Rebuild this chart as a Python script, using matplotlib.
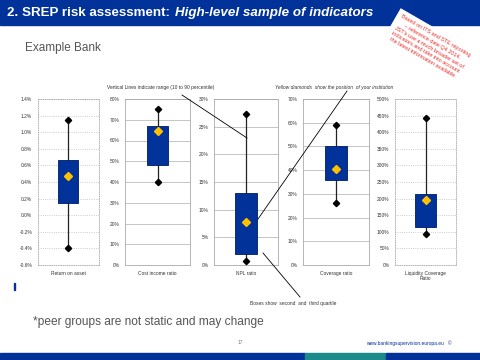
import matplotlib
matplotlib.use("Agg")
import matplotlib.pyplot as plt
from matplotlib.patches import Rectangle
from matplotlib.ticker import FuncFormatter, MultipleLocator

plt.rcParams['font.family'] = ['Liberation Sans', 'DejaVu Sans']

# indicator data (values in percent)
names = ["Return on asset", "Cost income ratio", "NPL ratio", "Coverage ratio", "Liquidity Coverage\nRatio"]
p10 = [-0.40, 40, 0.7, 26, 92]
q1 = [0.15, 48, 2.0, 36, 115]
q3 = [0.66, 67, 13.0, 50, 215]
p90 = [1.15, 75, 27.3, 59, 443]
bank = [0.47, 64.5, 7.8, 40.5, 195]
y_min = [-0.6, 0, 0, 0, 0]
y_max = [1.4, 80, 30, 70, 500]
y_step = [0.2, 10, 5, 10, 50]
tick_fmt = ["{:.1f}%", "{:.0f}%", "{:.0f}%", "{:.0f}%", "{:.0f}%"]
grid_style = [":", "-", "-", "-", ":"]

note_lines = ["Based on ITS and STE reporting", "\u2013 reference date Q4 2014.",
              "JST's use a much broader set of", "indicators and take into account",
              "the latest information available."]

BLUE = "#003299"
W, H = 480, 360


def px(x0, y0, x1, y1):
    # pixel box (top-left origin) -> figure fraction rect
    return [x0 / W, 1 - y1 / H, (x1 - x0) / W, (y1 - y0) / H]


fig = plt.figure(figsize=(4.8, 3.6), dpi=100)

# header band
fig.patches.append(Rectangle((0, 1 - 25 / H), 1, 25 / H, transform=fig.transFigure, color=BLUE))
t1 = fig.text(7 / W, 1 - 13 / H, "2. SREP risk assessment:", color="white", fontsize=9.6,
              fontweight="bold", va="center")
fig.canvas.draw()
x_end = t1.get_window_extent().x1
fig.text((x_end + 5) / W, 1 - 13 / H, "High-level sample of indicators", color="white", fontsize=9.6,
         fontweight="bold", style="italic", va="center")

# footer band
fig.patches.append(Rectangle((0, 0), 305 / W, 7.5 / H, transform=fig.transFigure, color=BLUE))
fig.patches.append(Rectangle((305 / W, 0), 80 / W, 7.5 / H, transform=fig.transFigure, color="#1a8a8a"))
fig.patches.append(Rectangle((386 / W, 0), 94 / W, 7.5 / H, transform=fig.transFigure, color=BLUE))

fig.text(25 / W, 1 - 48 / H, "Example Bank", color="#555555", fontsize=8.5, va="center")
fig.text(33 / W, 1 - 322 / H, "*peer groups are not static and may change", color="#555555",
         fontsize=8.6, va="center")
fig.text(240 / W, 1 - 343 / H, "17", color="#777777", fontsize=3.5, ha="center", va="center")
fig.text(452 / W, 1 - 343 / H, "www.bankingsupervision.europa.eu   \u00a9", color=BLUE, fontsize=3.5,
         ha="right", va="center")
fig.patches.append(Rectangle((13.5 / W, 1 - 290 / H), 1.2 / W, 7 / H, transform=fig.transFigure, color=BLUE))

# note sticker
note = fig.text(429 / W, 1 - 47 / H, "\n".join(note_lines), color="#e8302a", fontsize=4.0,
                rotation=-30, ha="center", va="center", linespacing=1.35, zorder=6,
                rotation_mode="anchor")
note.set_bbox(dict(facecolor="white", edgecolor="none", pad=3))

boxes = [(37.7, 99), (125, 190), (214, 278), (303, 369), (395, 456)]
axes = []
for i, (x0, x1) in enumerate(boxes):
    ax = fig.add_axes(px(x0, 99, x1, 265))
    axes.append(ax)
    ax.set_xlim(-1, 1)
    ax.set_ylim(y_min[i], y_max[i])
    ax.yaxis.set_major_locator(MultipleLocator(y_step[i]))
    ax.yaxis.set_major_formatter(FuncFormatter(lambda v, p, f=tick_fmt[i]: f.format(v)))
    ax.tick_params(axis="y", labelsize=3.5, length=0, pad=4, colors="#333333")
    ax.set_xticks([0])
    ax.set_xticklabels([names[i]], fontsize=3.5, color="#333333")
    ax.tick_params(axis="x", length=0, pad=4)
    ax.grid(axis="y", linestyle=grid_style[i], color="#bbbbbb", linewidth=0.6)
    ax.set_axisbelow(True)
    for s in ax.spines.values():
        s.set_linestyle(grid_style[i])
        s.set_color("#aaaaaa")
        s.set_linewidth(0.6)

    ax.plot([0, 0], [p10[i], p90[i]], color="#222222", linewidth=0.9, zorder=2)
    ax.plot([0, 0], [p10[i], p90[i]], linestyle="none", marker="D", markersize=3.2,
            color="black", zorder=3)
    ax.bar([0], [q3[i] - q1[i]], bottom=[q1[i]], width=0.66, color=BLUE, edgecolor="#001a66",
           linewidth=0.6, zorder=4)
    ax.plot([0], [bank[i]], linestyle="none", marker="D", markersize=4, color="#ffc000", zorder=5)

# annotations
fig.text(107 / W, 1 - 88 / H, "Vertical Lines indicate range (10 to 90 percentile)", fontsize=3.5,
         color="#333333", va="center")
fig.text(275 / W, 1 - 88 / H, "Yellow diamonds  show the position  of your institution", fontsize=3.5,
         color="#333333", style="italic", va="center")
fig.text(250 / W, 1 - 303 / H, "Boxes show  second  and  third quartile", fontsize=3.5,
         color="#333333", va="center")
for (xa, ya, xb, yb) in [(182, 95, 247, 138), (347, 91, 258, 219), (263, 253, 300, 297)]:
    fig.add_artist(plt.Line2D([xa / W, xb / W], [1 - ya / H, 1 - yb / H], color="black",
                              linewidth=0.6, zorder=10))

fig.savefig("out.png", dpi=100)
